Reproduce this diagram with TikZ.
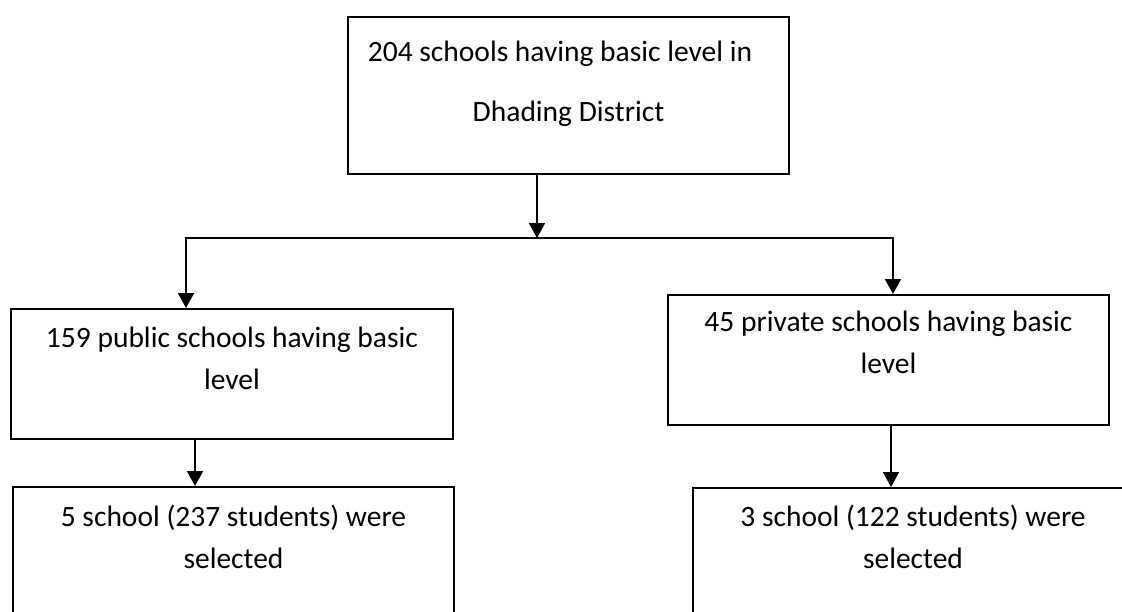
\documentclass[tikz,border=0pt]{standalone}
\usepackage{fontspec}
\setmainfont{Carlito}
\usetikzlibrary{arrows.meta,positioning}
\tikzset{
  box/.style={draw, line width=2pt, anchor=north west, inner sep=0pt},
  boxtext/.style={align=center, inner sep=0pt, font=\fontsize{29.5}{42}\selectfont},
  arr/.style={line width=2pt, -{Triangle[width=16pt,length=15pt]}},
}
\begin{document}
\begin{tikzpicture}[x=1pt,y=-1pt]
    \useasboundingbox (0,0) rectangle (1122,611);
    \clip (0,0) rectangle (1122,611);
    % boxes
    \node[box, minimum width=441pt, minimum height=157pt] (district) at (347,16) {};
    \node[box, minimum width=442pt, minimum height=130pt] (public) at (10,308) {};
    \node[box, minimum width=441pt, minimum height=130pt] (private) at (667,294) {};
    \node[box, minimum width=441pt, minimum height=160pt] (publicsel) at (12,486) {};
    \node[box, minimum width=440pt, minimum height=160pt] (privatesel) at (692,487) {};
    % texts
    \node[boxtext, below=25pt of district.north] (districttext)
    {204 schools having basic level in\hspace*{17pt}\\[18pt]Dhading District};
    \node[boxtext, below=19pt of public.north] (publictext)
    {159 public schools having basic\\level};
    \node[boxtext, below=17pt of private.north] (privatetext)
    {45 private schools having basic\\level};
    \node[boxtext, below=19pt of publicsel.north] (publicseltext)
    {5 school (237 students) were\\selected};
    \node[boxtext, below=18pt of privatesel.north] (privateseltext)
    {3 school (122 students) were\\selected};
    % connectors
    \coordinate (split) at (537,238);
    \draw[arr] (district.south -| split) -- (split);
    \draw[arr] (split) -| ([xshift=-46pt]public.north);
    \draw[arr] (split) -| ([xshift=4.5pt]private.north);
    \draw[arr] (public.south -| 195,0) -- (publicsel.north -| 195,0);
    \draw[arr] (private.south -| 891,0) -- (privatesel.north -| 891,0);
\end{tikzpicture}
\end{document}
